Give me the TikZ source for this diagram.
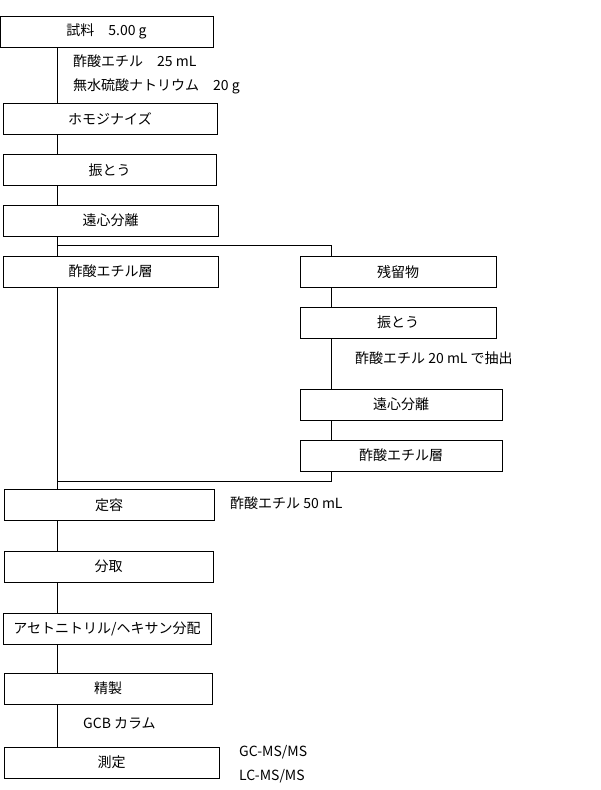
\documentclass[tikz,border=0pt]{standalone}
\usepackage{fontspec}
\setmainfont{Noto Sans CJK JP}
\usetikzlibrary{positioning,calc}
\tikzset{
  box/.style={draw,line width=0.8pt,minimum height=31,inner sep=0pt,font=\fontsize{14}{16}\selectfont},
  note/.style={anchor=west,inner sep=0pt,font=\fontsize{14}{16}\selectfont},
  flow/.style={line width=0.8pt}
}

\begin{document}
\begin{tikzpicture}[x=1pt,y=-1pt]
    \useasboundingbox (0,0) rectangle (600,790);
    % main column
    \foreach \n/\x/\y/\w/\t in {shiryo/106.5/31.5/213/{試料　5.00 g}, homo/110/118.5/214/ホモジナイズ, shinto/109.5/170/213/振とう, enshin/110.5/220.5/215/遠心分離, esoA/110.5/271.5/215/酢酸エチル層, teiyo/109/505/210/定容, bunshu/108.5/566.5/209/分取, bunpai/107/628.5/208/{アセトニトリル/ヘキサン分配}, seisei/108/688.5/208/精製, sokutei/111.5/762.5/215/測定} {
      \node[box,minimum width=\w] (\n) at (\x,\y) {\t};
    }
    % residue column
    \foreach \n/\x/\y/\w/\t in {zanryu/398/272/196/残留物, shintoB/398/322.5/196/振とう, enshinB/401/404.5/202/遠心分離, esoB/401/455.5/202/酢酸エチル層} {
      \node[box,minimum width=\w] (\n) at (\x,\y) {\t};
    }
    \coordinate (lx) at (57.5,0);
    \coordinate (rx) at (331,0);
    \coordinate (br) at (57.5,245);
    \coordinate (mg) at (57.5,481);
    % connectors
    \draw[flow] (shiryo.south -| lx) -- (homo.north -| lx);
    \draw[flow] (homo.south -| lx) -- (shinto.north -| lx);
    \draw[flow] (shinto.south -| lx) -- (enshin.north -| lx);
    \draw[flow] (enshin.south -| lx) -- (esoA.north -| lx);
    \draw[flow] (br) -| (zanryu.north -| rx);
    \draw[flow] (zanryu.south -| rx) -- (shintoB.north -| rx);
    \draw[flow] (shintoB.south -| rx) -- (enshinB.north -| rx);
    \draw[flow] (enshinB.south -| rx) -- (esoB.north -| rx);
    \draw[flow] (esoB.south -| rx) |- (mg);
    \draw[flow] (esoA.south -| lx) -- (teiyo.north -| lx);
    \draw[flow] (teiyo.south -| lx) -- (bunshu.north -| lx);
    \draw[flow] (bunshu.south -| lx) -- (bunpai.north -| lx);
    \draw[flow] (bunpai.south -| lx) -- (seisei.north -| lx);
    \draw[flow] (seisei.south -| lx) -- (sokutei.north -| lx);
    % conditions
    \foreach \n/\x/\y/\t in {c1/73/61/{酢酸エチル　25 mL}, c2/73/86/{無水硫酸ナトリウム　20 g}, c3/355/358/{酢酸エチル 20 mL で抽出}, c4/230/503/{酢酸エチル 50 mL}, c5/83/723/{GCB カラム}, c6/239/752/{GC-MS/MS}, c7/239/776/{LC-MS/MS}} {
      \node[note] (\n) at (\x,\y) {\t};
    }
  \end{tikzpicture}
\end{document}
